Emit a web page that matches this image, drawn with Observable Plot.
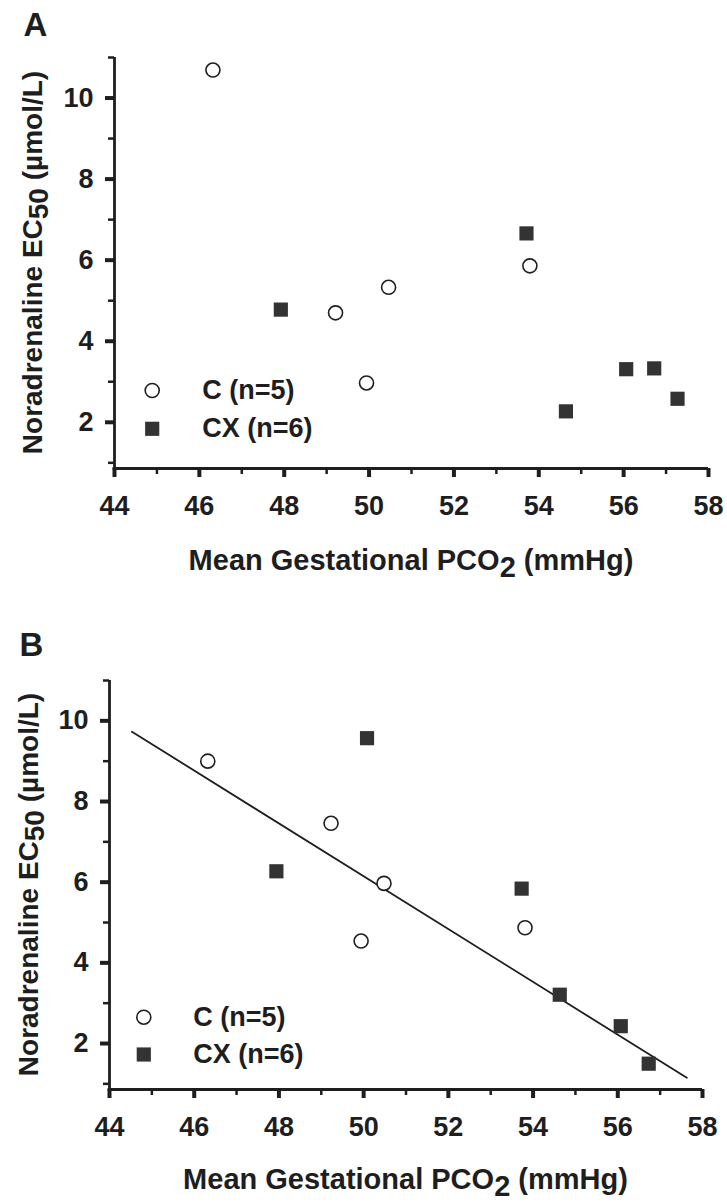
<!DOCTYPE html>
<html>
<head>
<meta charset="utf-8">
<script src="https://cdn.jsdelivr.net/npm/d3@7"></script>
<script src="https://cdn.jsdelivr.net/npm/@observablehq/plot@0.6"></script>
<style>
  html, body { margin: 0; padding: 0; background: #fff; }
  #chart svg { display: block; }
</style>
</head>
<body>
<div id="chart"></div>
<script>
// ---------- data ----------
const groups = ["C (n=5)", "CX (n=6)"];
const panelLabels = ["A", "B"];

const panelA_C_pco2  = [46.32, 49.21, 49.94, 50.46, 53.79];
const panelA_C_ec50  = [10.69, 4.70, 2.97, 5.33, 5.86];
const panelA_CX_pco2 = [47.92, 53.71, 54.64, 56.06, 56.72, 57.27];
const panelA_CX_ec50 = [4.78, 6.66, 2.27, 3.31, 3.33, 2.58];

const panelB_C_pco2  = [46.32, 49.23, 49.94, 50.48, 53.81];
const panelB_C_ec50  = [9.00, 7.46, 4.54, 5.97, 4.87];
const panelB_CX_pco2 = [47.94, 50.08, 53.73, 54.63, 56.07, 56.73];
const panelB_CX_ec50 = [6.27, 9.57, 5.84, 3.21, 2.43, 1.50];

const fitB_pco2 = [44.53, 57.63];
const fitB_ec50 = [9.73, 1.15];

const xMajorTicks = [44, 46, 48, 50, 52, 54, 56, 58];
const xMinorTicks = [45, 47, 49, 51, 53, 55, 57];
const yMajorTicks = [2, 4, 6, 8, 10];
const yMinorTicks = [1, 3, 5, 7, 9, 11];
const xDomain = [44, 58];
const yDomain = [0.86, 11];

const xTitle = ["Mean Gestational PCO", "2", " (mmHg)"];
const yTitle = ["Noradrenaline EC", "50", " (\u00B5mol/L)"];

// ---------- style ----------
const FONT = "'Liberation Sans', Arial, Helvetica, sans-serif";
const INK = "#1e1e1e";
const SQUARE_FILL = "#333";
const W = 727, H = 601;

function zip(xs, ys) { return xs.map((x, i) => ({x, y: ys[i]})); }

function panel(cfg) {
  const [mt, mr, mb, ml] = cfg.m;
  const C = zip(cfg.cX, cfg.cY);
  const CX = zip(cfg.xxX, cfg.xxY);
  const marks = [
    // axis lines
    Plot.ruleX([xDomain[0]], {stroke: INK, strokeWidth: 2.8, insetBottom: -1.4}),
    Plot.ruleY([yDomain[0]], {stroke: INK, strokeWidth: 2.8, insetLeft: -1.4}),
    // ticks and tick labels
    Plot.axisX({ticks: xMajorTicks, tickSize: 9, strokeWidth: 4, stroke: INK, tickPadding: 18,
      fontSize: 27, fontWeight: "bold", fill: INK, label: null, tickFormat: d => String(d)}),
    Plot.axisX({ticks: xMinorTicks, tickSize: 6, strokeWidth: 2.5, stroke: INK, label: null, tickFormat: () => ""}),
    Plot.axisY({ticks: yMajorTicks, tickSize: 9, strokeWidth: 4, stroke: INK, tickPadding: 12,
      fontSize: 27, fontWeight: "bold", fill: INK, label: null, tickFormat: d => String(d)}),
    Plot.axisY({ticks: yMinorTicks, tickSize: 6, strokeWidth: 2.5, stroke: INK, label: null, tickFormat: () => ""})
  ];
  if (cfg.fit) {
    marks.push(Plot.line(zip(cfg.fit[0], cfg.fit[1]), {x: "x", y: "y", stroke: INK, strokeWidth: 1.8}));
  }
  marks.push(
    Plot.dot(C, {x: "x", y: "y", r: 7, stroke: INK, strokeWidth: 1.6, fill: "white"}),
    Plot.dot(CX, {x: "x", y: "y", r: 8, symbol: "square", fill: SQUARE_FILL, stroke: "none"}),
    // legend
    Plot.dot([groups[0]], {frameAnchor: "bottom-left", dx: cfg.leg.dx, dy: cfg.leg.dy1, r: 7, stroke: INK, strokeWidth: 1.6, fill: "white"}),
    Plot.dot([groups[1]], {frameAnchor: "bottom-left", dx: cfg.leg.dx, dy: cfg.leg.dy2, r: 8, symbol: "square", fill: SQUARE_FILL, stroke: "none"}),
    Plot.text([groups[0]], {text: d => d, frameAnchor: "bottom-left", dx: cfg.leg.tdx, dy: cfg.leg.dy1,
      textAnchor: "start", lineAnchor: "middle", fontSize: 27, fontWeight: "bold", fill: INK}),
    Plot.text([groups[1]], {text: d => d, frameAnchor: "bottom-left", dx: cfg.leg.tdx, dy: cfg.leg.dy2,
      textAnchor: "start", lineAnchor: "middle", fontSize: 27, fontWeight: "bold", fill: INK}),
    // panel label
    Plot.text([cfg.label], {text: d => d, frameAnchor: "top-left", dx: cfg.lab.dx, dy: cfg.lab.dy,
      textAnchor: "middle", lineAnchor: "middle", fontSize: 33, fontWeight: "bold", fill: INK})
  );
  const plot = Plot.plot({
    width: W,
    height: H,
    marginTop: mt, marginRight: mr, marginBottom: mb, marginLeft: ml,
    style: {fontFamily: FONT, background: "white", color: INK, overflow: "visible"},
    x: {domain: xDomain, axis: null},
    y: {domain: yDomain, axis: null},
    marks
  });

  // axis titles with subscripts
  const xs = plot.scale("x"), ys = plot.scale("y");
  const svg = d3.select(plot.tagName.toLowerCase() === "svg" ? plot : plot.querySelector("svg"));
  const g = svg.append("g").attr("font-family", FONT).attr("font-weight", "bold").attr("fill", INK)
    .style("white-space", "pre");
  const xt = g.append("text")
    .attr("x", (xs.range[0] + xs.range[1]) / 2)
    .attr("y", Math.max(...ys.range) + cfg.xTitleOff)
    .attr("text-anchor", "middle").attr("font-size", 29);
  xt.append("tspan").text(xTitle[0]);
  xt.append("tspan").attr("dy", 7).text(xTitle[1]);
  xt.append("tspan").attr("dy", -7).text(xTitle[2]);

  const yt = g.append("text")
    .attr("transform", `translate(${cfg.yTitleX},${(ys.range[0] + ys.range[1]) / 2}) rotate(-90)`)
    .attr("text-anchor", "middle").attr("font-size", 28);
  yt.append("tspan").text(yTitle[0]);
  yt.append("tspan").attr("dy", 6).text(yTitle[1]);
  yt.append("tspan").attr("dy", -6).text(yTitle[2]);
  return plot;
}

const chart = document.getElementById("chart");
chart.appendChild(panel({
  label: panelLabels[0],
  cX: panelA_C_pco2, cY: panelA_C_ec50, xxX: panelA_CX_pco2, xxY: panelA_CX_ec50,
  m: [57, 19, 133, 114],
  leg: {dx: 37.7, dy1: -78, dy2: -39.7, tdx: 87.7},
  lab: {dx: -79, dy: -32},
  xTitleOff: 102, yTitleX: 42
}));
chart.appendChild(panel({
  label: panelLabels[1],
  cX: panelB_C_pco2, cY: panelB_C_ec50, xxX: panelB_CX_pco2, xxY: panelB_CX_ec50,
  fit: [fitB_pco2, fitB_ec50],
  m: [79, 25, 113, 109],
  leg: {dx: 34.3, dy1: -72.3, dy2: -35, tdx: 83.7},
  lab: {dx: -78, dy: -35},
  xTitleOff: 100, yTitleX: 37.5
}));
</script>
</body>
</html>
